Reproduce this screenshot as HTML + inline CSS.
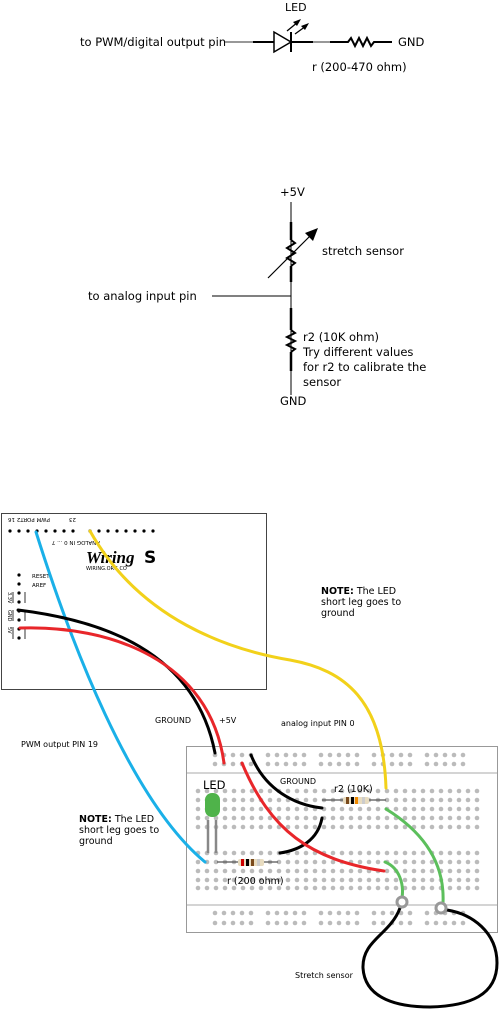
<!DOCTYPE html>
<html><head><meta charset="utf-8"><style>
html,body{margin:0;padding:0;background:#fff;}
svg{display:block;font-family:"DejaVu Sans","Liberation Sans",sans-serif;}
</style></head><body>
<svg id="s" width="500" height="1009" viewBox="0 0 500 1009">
<g fill="none">
<text x="285" y="11" font-size="11" fill="#000" stroke="none">LED</text>
<text x="80" y="46" font-size="11.5" fill="#000" stroke="none">to PWM/digital output pin</text>
<line x1="225" y1="42" x2="253" y2="42" stroke="#777" stroke-width="1.5"/>
<line x1="253" y1="42" x2="274" y2="42" stroke="#000" stroke-width="2"/>
<polygon points="274,32 274,52 291,42" fill="none" stroke="#000" stroke-width="1.5"/>
<line x1="291" y1="32" x2="291" y2="52" stroke="#000" stroke-width="2"/>
<line x1="291" y1="42" x2="313" y2="42" stroke="#000" stroke-width="2"/>
<line x1="313" y1="42" x2="330" y2="42" stroke="#777" stroke-width="1.5"/>
<polyline points="330,42 348,42 351,38 355,46 359,38 363,46 367,38 371,46 374,42 392,42" stroke="#000" stroke-width="2"/>
<line x1="287" y1="31" x2="298" y2="22" stroke="#000" stroke-width="1.3"/>
<polygon points="301,19 293,22 297,26" fill="#000"/>
<line x1="295" y1="34" x2="306" y2="26" stroke="#000" stroke-width="1.3"/>
<polygon points="309,23 301,26 305,30" fill="#000"/>
<text x="398" y="46" font-size="11.5" fill="#000">GND</text>
<text x="312" y="71" font-size="11.5" fill="#000">r (200-470 ohm)</text>
</g>
<g fill="none">
<text x="280" y="196" font-size="11.5" fill="#000">+5V</text>
<line x1="291" y1="202" x2="291" y2="395" stroke="#000" stroke-width="1"/>
<line x1="291" y1="222" x2="291" y2="240" stroke="#000" stroke-width="2.5"/>
<polyline points="291,240 295,243 287,248 295,253 287,258 295,263 291,266" stroke="#000" stroke-width="2"/>
<line x1="291" y1="266" x2="291" y2="282" stroke="#000" stroke-width="2.5"/>
<line x1="268" y1="278" x2="312" y2="234" stroke="#000" stroke-width="1.2"/>
<polygon points="318,228 305,233 313,241" fill="#000"/>
<line x1="212" y1="296" x2="291" y2="296" stroke="#000" stroke-width="1"/>
<line x1="291" y1="308" x2="291" y2="330" stroke="#000" stroke-width="2.5"/>
<polyline points="291,330 295,333 287,337 295,341 287,345 295,349 291,352" stroke="#000" stroke-width="2"/>
<line x1="291" y1="352" x2="291" y2="371" stroke="#000" stroke-width="2.5"/>
<text x="322" y="255" font-size="11.5" fill="#000">stretch sensor</text>
<text x="88" y="300" font-size="11.5" fill="#000">to analog input pin</text>
<text x="303" y="341" font-size="11.5" fill="#000">r2 (10K ohm)</text>
<text x="303" y="356" font-size="11.5" fill="#000">Try different values</text>
<text x="303" y="371" font-size="11.5" fill="#000">for r2 to calibrate the</text>
<text x="303" y="386" font-size="11.5" fill="#000">sensor</text>
<text x="280" y="405" font-size="11.5" fill="#000">GND</text>
</g>
<g>
<rect x="1.5" y="513.5" width="265" height="176" fill="#fff" stroke="#444" stroke-width="1"/>
<g font-size="5.5" fill="#000">
<text x="5" y="522" transform="rotate(180 10 520)">16</text>
<text x="30" y="522" transform="rotate(180 40 520)">PWM PORT2</text>
<text x="68" y="522" transform="rotate(180 72 520)">23</text>
<text x="150" y="543" transform="rotate(180 125 542)">ANALOG IN 0 ... 7</text>
</g>
<text x="86" y="563" font-size="17" font-weight="bold" font-style="italic" font-family="Liberation Serif,serif" fill="#000">Wiring</text>
<text x="144" y="563" font-size="17" font-weight="bold" fill="#000">S</text>
<text x="86" y="570" font-size="5" fill="#000">WIRING.ORG.CO</text>
<g font-size="5.5" fill="#000">
<text x="32" y="578">RESET</text><text x="32" y="587">AREF</text>
</g>
<g stroke="#000" stroke-width="0.8"><line x1="13" y1="592" x2="13" y2="603"/><line x1="25" y1="592" x2="25" y2="603"/><line x1="13" y1="610" x2="13" y2="621"/><line x1="25" y1="610" x2="25" y2="621"/><line x1="13" y1="627" x2="13" y2="639"/><line x1="25" y1="627" x2="25" y2="639"/></g>
<g font-size="5" fill="#000"><text transform="translate(8,592) rotate(90)">3.3V</text><text transform="translate(8,610) rotate(90)">GND</text><text transform="translate(8,627) rotate(90)">5V</text></g>
</g>
<g id="bbGroup">
<rect x="186.5" y="746.5" width="311" height="186" fill="#fff" stroke="#999" stroke-width="1"/>
<line x1="187" y1="773" x2="497" y2="773" stroke="#aaa"/>
<line x1="187" y1="905" x2="497" y2="905" stroke="#aaa"/>
</g>
<g id="holes"></g>
<g>
<line x1="208" y1="820" x2="208" y2="853" stroke="#888" stroke-width="2.5"/>
<line x1="216" y1="820" x2="216" y2="853" stroke="#888" stroke-width="2.5"/>
<rect x="205" y="793" width="15" height="24" rx="7" fill="#4fb34a"/>
<text x="203" y="789" font-size="11.5" fill="#000">LED</text>
</g>
<g>
<line x1="217" y1="862" x2="278" y2="862" stroke="#555" stroke-width="1.2"/>
<rect x="238" y="859" width="26" height="7" rx="2" fill="#e8dcc0"/>
<rect x="241" y="859" width="3" height="7" fill="#c00"/><rect x="246" y="859" width="3" height="7" fill="#000"/><rect x="251" y="859" width="3" height="7" fill="#7a4a1c"/><rect x="257" y="859" width="3" height="7" fill="#ccc"/>
<text x="227" y="884" font-size="9.5" fill="#000">r (200 ohm)</text>
</g>
<g>
<line x1="322" y1="800" x2="386" y2="800" stroke="#555" stroke-width="1.2"/>
<rect x="343" y="797" width="26" height="7" rx="2" fill="#e8dcc0"/>
<rect x="346" y="797" width="3" height="7" fill="#7a4a1c"/><rect x="351" y="797" width="3" height="7" fill="#000"/><rect x="355" y="797" width="3" height="7" fill="#f08a00"/><rect x="362" y="797" width="3" height="7" fill="#ccc"/>
<text x="334" y="792" font-size="9.5" fill="#000">r2 (10K)</text>
</g>
<g fill="none" stroke-width="3" stroke-linecap="round">
<path d="M36,532 C70,640 130,800 205,862" stroke="#1ab0e8"/>
<path d="M90,531 C140,620 230,650 290,660 C345,670 383,700 386,788" stroke="#f2d11a"/>
<path d="M18,610 C100,620 195,650 215,753" stroke="#000"/>
<path d="M20,628 C110,625 210,660 224,763" stroke="#e8262a"/>
<path d="M251,755 C265,790 295,805 322,808" stroke="#000"/>
<path d="M322,818 C318,840 300,850 280,853" stroke="#000"/>
<path d="M242,763 C270,830 310,860 384,871" stroke="#e8262a"/>
<path d="M385,862 C400,868 404,885 402,898" stroke="#5cbf5c"/>
<path d="M386,809 C420,830 445,860 443,903" stroke="#5cbf5c"/>
<path d="M400,908 C390,935 362,940 363,968 C365,1000 400,1007 430,1007 C470,1006 497,995 497,963 C497,932 472,914 447,910" stroke="#000"/>
</g>
<circle cx="402" cy="902" r="5" fill="#fff" stroke="#999" stroke-width="3"/>
<circle cx="441" cy="908" r="5" fill="#fff" stroke="#999" stroke-width="3"/>
<g font-size="8" fill="#000">
<text x="155" y="723">GROUND</text>
<text x="219" y="723">+5V</text>
<text x="281" y="726">analog input PIN 0</text>
<text x="21" y="747">PWM output PIN 19</text>
<text x="280" y="784">GROUND</text>
<text x="295" y="978">Stretch sensor</text>
</g>
<g font-size="9.5" fill="#000">
<text x="321" y="594"><tspan font-weight="bold">NOTE:</tspan> The LED</text>
<text x="321" y="605">short leg goes to</text>
<text x="321" y="616">ground</text>
</g>
<g font-size="9.5" fill="#000">
<text x="79" y="822"><tspan font-weight="bold">NOTE:</tspan> The LED</text>
<text x="79" y="833">short leg goes to</text>
<text x="79" y="844">ground</text>
</g>
</svg>
<script>
const NS='http://www.w3.org/2000/svg';
const holes=document.getElementById('holes');
const boardHeaderCols=[0,1,2,3,4,5,6,7];
const analogCols=[0,1,2,3,4,5,6,7];
const sidePins=[0,1,2,3,4,5,6,7];
const mainRowsTop=[791,800,809,818,827];
const mainRowsBot=[853,862,871,880,888];
const railRows=[755,764,913,923];
function dot(x,y,r,fill,name){
  const c=document.createElementNS(NS,'circle');
  c.setAttribute('cx',x);c.setAttribute('cy',y);c.setAttribute('r',r);c.setAttribute('fill',fill);
  
  
  holes.appendChild(c);
}
boardHeaderCols.forEach(i=>dot(10+i*9,531,1.6,'#000','header-pin'));
analogCols.forEach(i=>dot(90+i*9,531,1.6,'#000','analog-pin'));
sidePins.forEach(i=>dot(19,575+i*9,1.6,'#000','power-pin'));
for(let c=0;c<32;c++){
  const x=198+c*9;
  mainRowsTop.concat(mainRowsBot).forEach(y=>dot(x,y,2.3,'#bbb','breadboard-hole'));
}
for(let g=0;g<5;g++)for(let k=0;k<5;k++){
  const x=215+g*53+k*9;
  railRows.forEach(y=>dot(x,y,2.3,'#bbb','rail-hole'));
}
</script>
</body></html>
